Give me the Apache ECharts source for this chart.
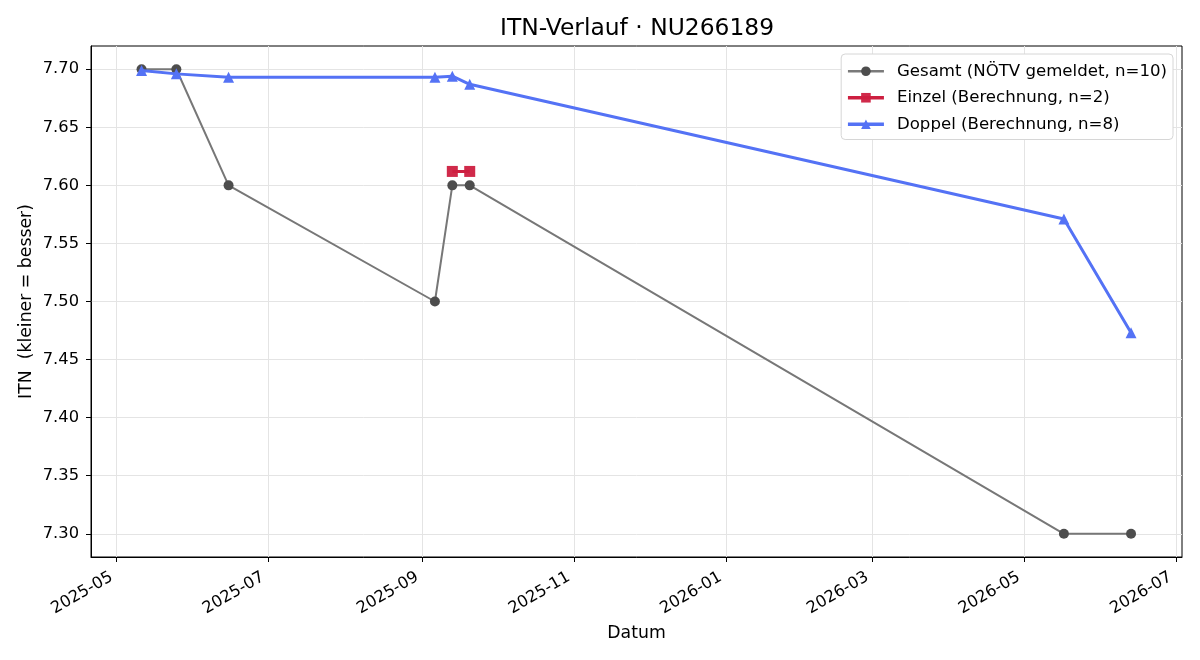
<!DOCTYPE html>
<html lang="de">
<head>
<meta charset="utf-8">
<title>ITN-Verlauf</title>
<script src="https://cdn.jsdelivr.net/npm/echarts@6/dist/echarts.min.js"></script>
<style>
  html, body { margin: 0; padding: 0; background: #fff; }
  #main { width: 1200px; height: 660px; }
</style>
</head>
<body>
<div id="main"></div>
<script>
// Daten
var gesamtDates = ['2025-05-11', '2025-05-25', '2025-06-15', '2025-09-06', '2025-09-13', '2025-09-20', '2026-05-17', '2026-06-13'];
var gesamtValues = [7.70, 7.70, 7.60, 7.50, 7.60, 7.60, 7.30, 7.30];

var einzelDates = ['2025-09-13', '2025-09-20'];
var einzelValues = [7.612, 7.612];

var doppelDates = ['2025-05-11', '2025-05-25', '2025-06-15', '2025-09-06', '2025-09-13', '2025-09-20', '2026-05-17', '2026-06-13'];
var doppelValues = [7.699, 7.696, 7.693, 7.693, 7.694, 7.687, 7.571, 7.473];

var xTicks = ['2025-05-01', '2025-07-01', '2025-09-01', '2025-11-01', '2026-01-01', '2026-03-01', '2026-05-01', '2026-07-01'];
var yTicks = [7.30, 7.35, 7.40, 7.45, 7.50, 7.55, 7.60, 7.65, 7.70];

function toTime(s) {
    var p = s.split('-');
    return new Date(+p[0], +p[1] - 1, +p[2]).getTime();
}
function pairs(dates, values) {
    return dates.map(function (d, i) { return [toTime(d), values[i]]; });
}
function fmtMonth(v) {
    var d = new Date(v);
    var m = d.getMonth() + 1;
    return d.getFullYear() + '-' + (m < 10 ? '0' + m : m);
}

var FONT = 'DejaVu Sans';
var xMin = toTime('2025-04-21') - 8 * 3600 * 1000;
var xMax = toTime('2026-07-03') + 12 * 3600 * 1000;

var myChart = echarts.init(document.getElementById('main'), null, { renderer: 'canvas' });

var option = {
    backgroundColor: '#ffffff',
    animation: false,
    textStyle: { fontFamily: FONT },
    title: {
        text: 'ITN-Verlauf · NU266189',
        left: 500,
        top: 17,
        padding: 0,
        textStyle: { fontFamily: FONT, fontSize: 23.4, fontWeight: 'normal', color: '#000' }
    },
    legend: {
        orient: 'vertical',
        right: 27,
        top: 54,
        padding: [8, 6, 6, 5],
        itemWidth: 36,
        itemHeight: 12,
        itemGap: 8,
        backgroundColor: '#ffffff',
        borderColor: '#d6d6d6',
        borderWidth: 1,
        borderRadius: 4,
        textStyle: { fontFamily: FONT, fontSize: 16.6, color: '#000', lineHeight: 18.5, padding: [0, 0, 0, 8] },
        data: [
            { name: 'Gesamt (NÖTV gemeldet, n=10)', lineStyle: { width: 2.5, color: '#7a7a7a' } },
            { name: 'Einzel (Berechnung, n=2)', lineStyle: { width: 3.5, color: '#cd1f40' } },
            { name: 'Doppel (Berechnung, n=8)', lineStyle: { width: 3.5, color: '#5472f5' } }
        ]
    },
    grid: {
        left: 91,
        right: 18,
        top: 46,
        bottom: 103,
        show: true,
        borderColor: '#000',
        borderWidth: 1,
        backgroundColor: 'transparent',
        containLabel: false
    },
    xAxis: {
        type: 'value',
        min: xMin,
        max: xMax,
        scale: true,
        name: 'Datum',
        nameLocation: 'middle',
        nameGap: 68,
        nameMoveOverlap: false,
        nameTextStyle: { fontFamily: FONT, fontSize: 17.3, color: '#000' },
        axisLine: { show: true, onZero: false, lineStyle: { color: '#000', width: 1 } },
        axisTick: {
            show: true, inside: false, length: 5,
            lineStyle: { color: '#000', width: 1 },
            customValues: xTicks.map(toTime)
        },
        axisLabel: {
            show: true,
            rotate: 30,
            margin: 16,
            padding: [0, 6, 0, 0],
            fontFamily: FONT,
            fontSize: 16.3,
            color: '#000',
            hideOverlap: false,
            showMinLabel: true,
            showMaxLabel: true,
            customValues: xTicks.map(toTime),
            formatter: function (v) { return fmtMonth(v); }
        },
        splitLine: { show: true, lineStyle: { color: '#e4e4e4', width: 1 } }
    },
    yAxis: {
        type: 'value',
        min: 7.28,
        max: 7.72,
        name: 'ITN  (kleiner = besser)',
        nameLocation: 'middle',
        nameGap: 56,
        nameMoveOverlap: false,
        nameTextStyle: { fontFamily: FONT, fontSize: 17.3, color: '#000' },
        axisLine: { show: true, lineStyle: { color: '#000', width: 1 } },
        axisTick: {
            show: true, inside: false, length: 5,
            lineStyle: { color: '#000', width: 1 },
            customValues: yTicks
        },
        axisLabel: {
            show: true,
            margin: 12,
            fontFamily: FONT,
            fontSize: 16.3,
            color: '#000',
            customValues: yTicks,
            formatter: function (v) { return v.toFixed(2); }
        },
        splitLine: { show: true, lineStyle: { color: '#e4e4e4', width: 1 } }
    },
    series: [
        {
            name: 'Gesamt (NÖTV gemeldet, n=10)',
            type: 'line',
            data: pairs(gesamtDates, gesamtValues),
            symbol: 'circle',
            symbolSize: 10,
            showAllSymbol: true,
            lineStyle: { color: '#777777', width: 2 },
            itemStyle: { color: '#4d4d4d', borderColor: '#4d4d4d', borderWidth: 0 },
            z: 2
        },
        {
            name: 'Einzel (Berechnung, n=2)',
            type: 'line',
            data: pairs(einzelDates, einzelValues),
            symbol: 'rect',
            symbolSize: 11,
            showAllSymbol: true,
            lineStyle: { color: '#cd1f40', width: 3 },
            itemStyle: { color: '#cd1f40', opacity: 0.95 },
            z: 3
        },
        {
            name: 'Doppel (Berechnung, n=8)',
            type: 'line',
            data: pairs(doppelDates, doppelValues),
            symbol: 'triangle',
            symbolSize: 11,
            showAllSymbol: true,
            lineStyle: { color: '#5472f5', width: 3 },
            itemStyle: { color: '#5472f5' },
            z: 4
        }
    ]
};

myChart.setOption(option);
</script>
</body>
</html>
